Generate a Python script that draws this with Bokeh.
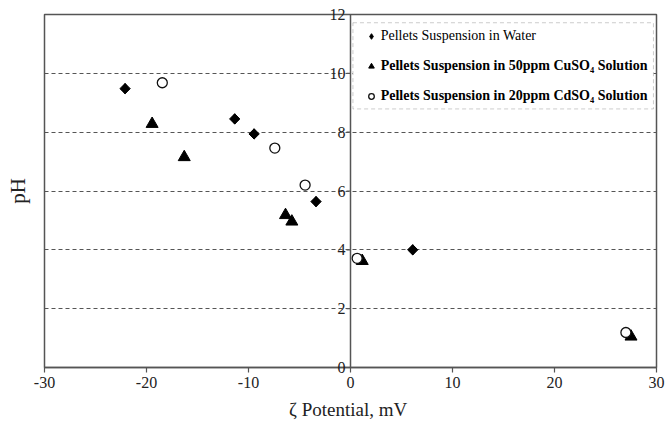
import numpy as np
from bokeh.plotting import figure
from bokeh.models import (Range1d, LinearAxis, FixedTicker, Span, BoxAnnotation,
                          Legend, LegendItem)
from bokeh.core.properties import value
from bokeh.embed import file_html
from bokeh.resources import INLINE

# ---- data ----
water_x = [-22.1, -11.35, -9.45, -3.38, 6.1]
water_y = [9.48, 8.45, 7.94, 5.64, 4.0]
cu_x = [-19.45, -16.3, -6.37, -5.75, 1.15, 27.5]
cu_y = [8.28, 7.15, 5.18, 4.96, 3.62, 1.05]
cd_x = [-18.45, -7.42, -4.45, 0.65, 27.0]
cd_y = [9.68, 7.46, 6.2, 3.71, 1.19]
x_ticks = [-30, -20, -10, 0, 10, 20, 30]
x_tick_labels = ["-30", "-20", "-10", "0", "10", "20", "30"]
y_ticks = [0, 2, 4, 6, 8, 10, 12]
y_tick_labels = ["0", "2", "4", "6", "8", "10", "12"]
grid_levels = [2, 4, 6, 8, 10]
series_labels = ["Pellets Suspension in Water",
                 "Pellets Suspension in 50ppm CuSO\u2084 Solution",
                 "Pellets Suspension in 20ppm CdSO\u2084 Solution"]
x_title = "\u03b6  Potential, mV"
y_title = "pH"

FONT = "Liberation Serif"
FRAME = "#555555"
TXT = "#222222"

p = figure(width=665, height=427, x_range=Range1d(-30, 30), y_range=Range1d(0, 12),
           output_backend="svg", toolbar_location=None, y_axis_location=None,
           min_border_left=44, min_border_right=9, min_border_top=14, min_border_bottom=60)

p.background_fill_color = "white"
p.border_fill_color = "white"
p.outline_line_color = FRAME
p.outline_line_width = 1.5
p.outline_line_alpha = 1.0

p.xgrid.visible = False
p.ygrid.ticker = FixedTicker(ticks=grid_levels)
p.ygrid.grid_line_color = FRAME
p.ygrid.grid_line_dash = "4 3"
p.ygrid.grid_line_width = 1

xa = p.xaxis[0]
xa.ticker = FixedTicker(ticks=x_ticks)
xa.major_label_overrides = {t: s for t, s in zip(x_ticks, x_tick_labels)}
xa.minor_tick_line_color = None
xa.major_tick_out = 5
xa.major_tick_in = 0
xa.axis_line_color = FRAME
xa.axis_line_width = 1.5
xa.major_tick_line_color = FRAME
xa.major_tick_line_width = 1.2
xa.major_label_text_font = FONT
xa.major_label_text_font_size = "16px"
xa.major_label_text_color = TXT
xa.major_label_standoff = 4
xa.axis_label = x_title
xa.axis_label_text_font = FONT
xa.axis_label_text_font_size = "19px"
xa.axis_label_text_font_style = "normal"
xa.axis_label_text_color = TXT
xa.axis_label_standoff = 8

ya = LinearAxis(ticker=FixedTicker(ticks=[]), axis_label=y_title,
                axis_line_color=None, major_tick_line_color=None, minor_tick_line_color=None,
                axis_label_text_font=FONT, axis_label_text_font_size="21px",
                axis_label_text_font_style="normal", axis_label_text_color=TXT,
                axis_label_standoff=15)
p.add_layout(ya, "left")

# central y axis at zeta = 0
p.add_layout(Span(location=0, dimension="height", line_color=FRAME, line_width=1.5))
p.ray(x=[0] * len(y_ticks), y=y_ticks, length=4, angle=np.pi, length_units="screen",
      line_color=FRAME, line_width=1.2)
p.text(x=[0] * len(y_ticks), y=y_ticks, text=y_tick_labels, x_offset=-5,
       text_align="right", text_baseline="middle", text_font=value(FONT),
       text_font_size=value("16px"), text_color=TXT, level="overlay")

# data: a hidden diamond beneath each rotated square supplies the legend key
r_w_key = p.scatter(water_x, water_y, marker="diamond", size=10.2,
                    fill_color="black", line_color="black")
r_w = p.scatter(water_x, water_y, marker="square", angle=np.pi / 4, size=7.3,
                fill_color="black", line_color="black")
r_cu = p.scatter(cu_x, cu_y, marker="triangle", size=12,
                 fill_color="black", line_color="black")
r_cd = p.scatter(cd_x, cd_y, marker="circle", size=10, fill_color="white",
                 line_color="#111111", line_width=1.3)

# legend box
p.add_layout(BoxAnnotation(left=0.24, right=29.7, top=11.72, bottom=8.79,
                           fill_color="white", fill_alpha=1.0,
                           line_color=FRAME, line_dash="4 3", line_width=1))

common = dict(border_line_color=None, background_fill_alpha=0, padding=0, margin=0,
              glyph_width=14, glyph_height=24, label_height=24, label_standoff=3,
              spacing=6, label_text_font=FONT, label_text_font_size="14px",
              label_text_color="black")
legA = Legend(items=[LegendItem(label=series_labels[0], renderers=[r_w_key])],
              location=(319.7, 319.3), label_text_font_style="normal", **common)
legB = Legend(items=[LegendItem(label=series_labels[1], renderers=[r_cu]),
                     LegendItem(label=series_labels[2], renderers=[r_cd])],
              location=(319.7, 259.3), label_text_font_style="bold", **common)
p.add_layout(legA)
p.add_layout(legB)

open("out.html", "w").write(file_html(p, INLINE))
